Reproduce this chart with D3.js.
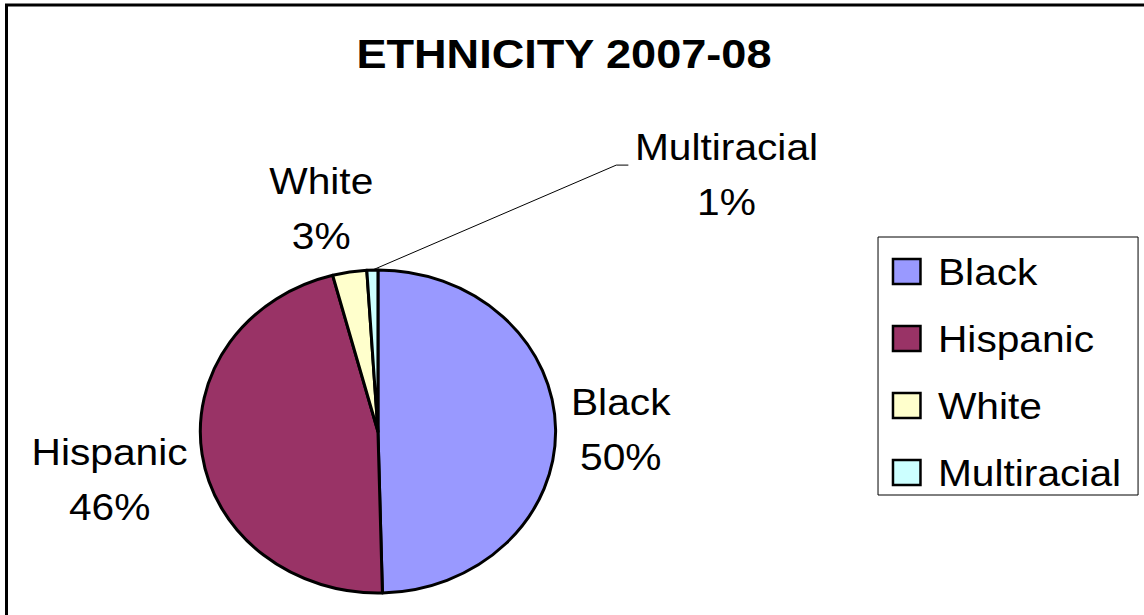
<!DOCTYPE html>
<html>
<head>
<meta charset="utf-8">
<script src="https://cdn.jsdelivr.net/npm/d3@7"></script>
<style>
	body { margin: 0; background: #fff; }
	svg { display: block; }
	text { font-family: "Liberation Sans", Arial, sans-serif; fill: #000; }
</style>
</head>
<body>
<div id="chart"></div>
<script>
// data
var categories = ['Black', 'Hispanic', 'White', 'Multiracial'];
var values = [49.6, 46.3, 3.1, 1.0];
var colors = ['#9999ff', '#993366', '#ffffcc', '#ccffff'];
var chartTitle = 'ETHNICITY 2007-08';

// layout (the original is stretched a bit horizontally)
var width = 1144,
	height = 615,
	sx = 1.1;

var cx = 343.6,
	cy = 431.5,
	radius = 161.5;

var labelFont = 37,
	lineGap = 55,
	capHeight = 27,
	labelGap = 14;

// hand moved labels, offsets from the automatic spot
var labelNudge = {
	Hispanic: [0, 17],
	White: [-16, -10],
	Multiracial: [325, -41]
};
var leaderFor = ['Multiracial'];

var legend = {x: 798.2, y: 237, w: 236.4, h: 258, row0: 271.5, step: 67, swatch: 25};

var svg = d3.select('#chart').append('svg')
	.attr('width', width)
	.attr('height', height);

// outer frame, only top and left edges are inside the picture
svg.append('rect')
	.attr('x', 6.5)
	.attr('y', 5)
	.attr('width', width + 100)
	.attr('height', height + 100)
	.style('fill', 'none')
	.style('stroke', '#000')
	.style('stroke-width', 3);

var root = svg.append('g')
	.attr('transform', 'scale(' + sx + ',1)');

root.append('text')
	.attr('x', 512.7)
	.attr('y', 68)
	.attr('text-anchor', 'middle')
	.style('font-size', '41px')
	.style('font-weight', 'bold')
	.text(chartTitle);

var data = categories.map(function(c, i) {
	return {id: c, count: values[i], color: colors[i]};
});
var total = d3.sum(values);

var pie = d3.pie()
	.sort(null)
	.value(function(d) { return d.count; });

var arc = d3.arc()
	.innerRadius(0)
	.outerRadius(radius);

var arcs = pie(data);

var pieG = root.append('g')
	.attr('transform', 'translate(' + cx + ',' + cy + ')');

pieG.selectAll('path')
	.data(arcs)
	.enter().append('path')
	.attr('d', arc)
	.attr('vector-effect', 'non-scaling-stroke')
	.style('fill', function(d) { return d.data.color; })
	.style('stroke', '#000')
	.style('stroke-width', 3)
	.style('stroke-linejoin', 'round');

// data labels: name on the first line, percent on the second
var labelG = root.append('g');

arcs.forEach(function(d) {
	var mid = (d.startAngle + d.endAngle) / 2,
		dx = Math.sin(mid),
		dy = -Math.cos(mid);
	var lines = [d.data.id, Math.round(d.data.count / total * 100) + '%'];

	var t = labelG.append('g');
	var texts = lines.map(function(s, i) {
		return t.append('text')
			.attr('text-anchor', 'middle')
			.attr('y', i * lineGap)
			.style('font-size', labelFont + 'px')
			.text(s);
	});
	var w = d3.max(texts, function(s) { return s.node().getComputedTextLength(); }),
		h = lineGap + capHeight;

	var ax = cx + dx * (radius + labelGap),
		ay = cy + dy * (radius + labelGap);
	var nudge = labelNudge[d.data.id] || [0, 0];
	var bx = ax + dx * w / 2 + nudge[0],
		by = ay + dy * h / 2 + nudge[1];
	var base = by - h / 2 + capHeight;

	t.attr('transform', 'translate(' + bx + ',' + base + ')');

	if (leaderFor.indexOf(d.data.id) >= 0) {
		var sx0 = cx + dx * radius,
			sy0 = cy + dy * radius,
			ex = bx - w / 2 - 6,
			ey = base + 5;
		labelG.append('path')
			.attr('d', 'M' + sx0 + ',' + sy0 + 'L' + (ex - 11) + ',' + ey + 'L' + ex + ',' + ey)
			.attr('vector-effect', 'non-scaling-stroke')
			.style('fill', 'none')
			.style('stroke', '#000')
			.style('stroke-width', 1);
	}
});

// legend
var lg = root.append('g');

lg.append('rect')
	.attr('x', legend.x)
	.attr('y', legend.y)
	.attr('width', legend.w)
	.attr('height', legend.h)
	.attr('vector-effect', 'non-scaling-stroke')
	.style('fill', '#fff')
	.style('stroke', '#000')
	.style('stroke-width', 1);

var item = lg.selectAll('.item')
	.data(data)
	.enter().append('g')
	.attr('class', 'item')
	.attr('transform', function(d, i) {
		return 'translate(0,' + (legend.row0 + i * legend.step) + ')';
	});

item.append('rect')
	.attr('x', 811.8)
	.attr('y', -legend.swatch / 2)
	.attr('width', legend.swatch)
	.attr('height', legend.swatch)
	.attr('vector-effect', 'non-scaling-stroke')
	.style('fill', function(d) { return d.color; })
	.style('stroke', '#000')
	.style('stroke-width', 2.5);

item.append('text')
	.attr('x', 852.7)
	.attr('y', 13.5)
	.style('font-size', labelFont + 'px')
	.text(function(d) { return d.id; });
</script>
</body>
</html>
